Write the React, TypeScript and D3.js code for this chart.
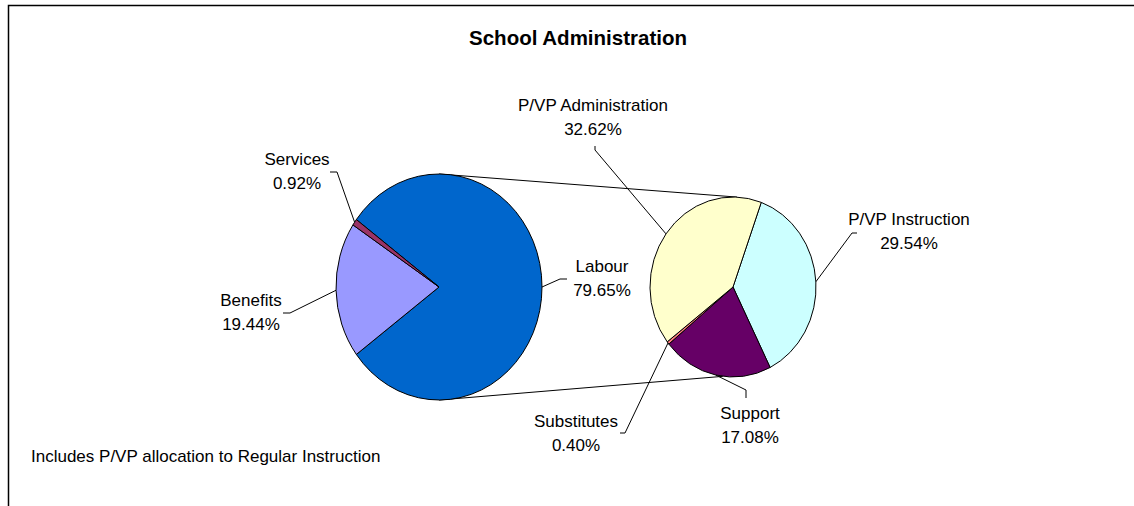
import React from "react";
import * as d3 from "d3";

const title = "School Administration";
const footnote = "Includes P/VP allocation to Regular Instruction";

const mainCategories = ["Labour", "Benefits", "Services"];
const mainValues = [79.65, 19.44, 0.92];
const mainColors = ["#0066CC", "#9999FF", "#993366"];

const subCategories = ["P/VP Instruction", "Support", "Substitutes", "P/VP Administration"];
const subValues = [29.54, 17.08, 0.4, 32.62];
const subColors = ["#CCFFFF", "#660066", "#FF8080", "#FFFFCC"];

// layout
const W = 1134;
const H = 506;
const MAIN = { cx: 439, cy: 287, rx: 103, ry: 113 };
const SUB = { cx: 733, cy: 287, rx: 83, ry: 90 };
const FONT = "'Liberation Sans', Arial, sans-serif";
const FS = 17;

// label layout: text center (x), first baseline (y), elbow point, leader end
const labelLayout: Record<string, { x: number; y: number; elbow: [number, number]; end: [number, number] }> = {
  Labour: { x: 602, y: 272, elbow: [560, 279], end: [567, 279] },
  Benefits: { x: 251, y: 306, elbow: [290, 313], end: [283, 313] },
  Services: { x: 297, y: 165, elbow: [337, 172], end: [330, 172] },
  "P/VP Administration": { x: 593, y: 111, elbow: [595, 150], end: [595, 146] },
  "P/VP Instruction": { x: 909, y: 225, elbow: [852, 233], end: [857, 233] },
  Support: { x: 750, y: 419, elbow: [746, 390], end: [746, 398] },
  Substitutes: { x: 576, y: 427, elbow: [625, 433], end: [620, 433] },
};

function edgePoint(p: { cx: number; cy: number; rx: number; ry: number }, a: number): [number, number] {
  return [p.cx + p.rx * Math.sin(a), p.cy - p.ry * Math.cos(a)];
}

const deg = Math.PI / 180;

export default function App() {
  const mainTotal = d3.sum(mainValues);
  const labourShare = mainValues[0] / mainTotal;
  const mainStart = Math.PI / 2 - Math.PI * labourShare;
  const mainPie = d3
    .pie<number>()
    .sort(null)
    .value((d) => d)
    .startAngle(mainStart)
    .endAngle(mainStart + 2 * Math.PI);
  const mainArcs = mainPie(mainValues);

  const subStart = 19.9 * deg;
  const subPie = d3
    .pie<number>()
    .sort(null)
    .value((d) => d)
    .startAngle(subStart)
    .endAngle(subStart + 2 * Math.PI);
  const subArcs = subPie(subValues);

  const mainArc = d3.arc<d3.PieArcDatum<number>>().innerRadius(0).outerRadius(MAIN.ry);
  const subArc = d3.arc<d3.PieArcDatum<number>>().innerRadius(0).outerRadius(SUB.ry);

  const fmt = (v: number) => v.toFixed(2) + "%";

  const renderLabel = (name: string, value: number, anchor: [number, number], key: string) => {
    const L = labelLayout[name];
    const pts = [anchor, L.elbow, L.end];
    return (
      <g key={key}>
        <polyline
          points={pts.map((p) => p.join(",")).join(" ")}
          fill="none"
          stroke="#000"
          strokeWidth={1}
        />
        <text x={L.x} y={L.y} textAnchor="middle" fontFamily={FONT} fontSize={FS} fill="#000">
          {name}
        </text>
        <text x={L.x} y={L.y + 24} textAnchor="middle" fontFamily={FONT} fontSize={FS} fill="#000">
          {fmt(value)}
        </text>
      </g>
    );
  };

  const topMain = edgePoint(MAIN, 0);
  const topSub = edgePoint(SUB, 2.8 * deg);
  const botMain = edgePoint(MAIN, Math.PI);
  const botSub = edgePoint(SUB, 187 * deg);

  return (
    <svg
      width={W}
      height={H}
      style={{ position: "absolute", left: 0, top: 0, background: "#fff" }}
    >
      <rect x={0} y={0} width={W} height={H} fill="#fff" />
      <path d={`M8.5,${H + 5} L8.5,5.5 L${W + 5},5.5`} fill="none" stroke="#000" strokeWidth={1.5} />
      <text x={578} y={45} textAnchor="middle" fontFamily={FONT} fontSize={20.5} fontWeight="bold">
        {title}
      </text>

      <line x1={topMain[0]} y1={topMain[1]} x2={topSub[0]} y2={topSub[1]} stroke="#000" strokeWidth={1} />
      <line x1={botMain[0]} y1={botMain[1]} x2={botSub[0]} y2={botSub[1]} stroke="#000" strokeWidth={1} />

      <g transform={`translate(${MAIN.cx},${MAIN.cy}) scale(${MAIN.rx / MAIN.ry},1)`}>
        {mainArcs.map((a, i) => (
          <path
            key={mainCategories[i]}
            d={mainArc(a) || ""}
            fill={mainColors[i]}
            stroke="#000"
            strokeWidth={1}
            vectorEffect="non-scaling-stroke"
          />
        ))}
      </g>
      <g transform={`translate(${SUB.cx},${SUB.cy}) scale(${SUB.rx / SUB.ry},1)`}>
        {subArcs.map((a, i) => (
          <path
            key={subCategories[i]}
            d={subArc(a) || ""}
            fill={subColors[i]}
            stroke="#000"
            strokeWidth={1}
            vectorEffect="non-scaling-stroke"
          />
        ))}
      </g>

      {mainArcs.map((a, i) =>
        renderLabel(mainCategories[i], mainValues[i], edgePoint(MAIN, (a.startAngle + a.endAngle) / 2), "m" + i)
      )}
      {subArcs.map((a, i) =>
        renderLabel(subCategories[i], subValues[i], edgePoint(SUB, (a.startAngle + a.endAngle) / 2), "s" + i)
      )}

      <text x={31} y={462} fontFamily={FONT} fontSize={FS} fill="#000">
        {footnote}
      </text>
    </svg>
  );
}
